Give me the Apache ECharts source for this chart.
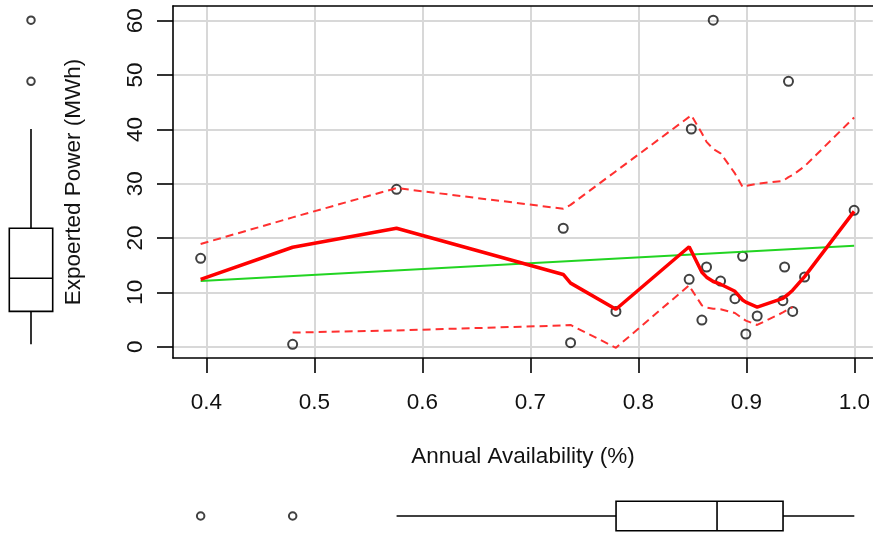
<!DOCTYPE html>
<html><head><meta charset="utf-8">
<script src="https://cdn.jsdelivr.net/npm/echarts@6/dist/echarts.min.js"></script>
<style>html,body{margin:0;padding:0;background:#fff}#c{width:873px;height:536px}</style>
</head><body><div id="c"></div>
<script>
// ---- data ----
const xTicks = [0.4, 0.5, 0.6, 0.7, 0.8, 0.9, 1.0];
const yTicks = [0, 10, 20, 30, 40, 50, 60];
const xTitle = 'Annual Availability (%)';
const yTitle = 'Expoerted Power (MWh)';

const availability = [0.3946, 0.4798, 0.576, 0.7304, 0.7372, 0.7792, 0.847, 0.849, 0.8588, 0.8631, 0.8693,
                      0.8761, 0.8894, 0.8965, 0.8995, 0.91, 0.9338, 0.9354, 0.939, 0.9429, 0.9539, 0.9998];
const power = [16.27, 0.44, 28.97, 21.8, 0.74, 6.5, 12.4, 40.07, 4.91, 14.67, 60.1,
               12.09, 8.84, 16.64, 2.34, 5.65, 8.47, 14.67, 48.85, 6.5, 12.83, 25.1];

// smoother and its spread, at the same x values
const smoothFit = [12.4, 18.3, 21.8, 13.3, 11.7, 6.9, 18.4, 17.6, 13.7, 12.8, 12.0,
                   11.5, 10.2, 8.6, 8.2, 7.3, 8.9, 9.2, 9.7, 10.4, 12.9, 24.9];
const upperSpread = [18.9, 23.8, 29.2, 25.4, 26.1, 32.3, 42.3, 42.6, 39.3, 37.7, 36.4,
                     35.6, 31.9, 29.4, 29.6, 30.0, 30.5, 30.7, 31.2, 31.6, 33.2, 42.2];
const lowerSpread = [null, 2.6, 3.0, 3.9, 4.0, -0.2, 11.3, 10.6, 7.6, 7.2, 7.0,
                     6.9, 6.2, 5.2, 4.8, 4.0, 6.3, 6.5, 6.9, 7.3, null, null];

// least-squares line end points
const regX = [0.3946, 0.9998];
const regY = [12.1, 18.6];

// marginal boxplots: [lower whisker, lower hinge, median, upper hinge, upper whisker]
const xBoxStats = [0.576, 0.7792, 0.8727, 0.9338, 0.9998];
const xBoxOutliers = [0.3946, 0.4798];
const yBoxStats = [0.44, 6.5, 12.6, 21.8, 40.07];
const yBoxOutliers = [48.85, 60.1];

// ---- chart ----
const FONT = 'Liberation Sans, Arial, sans-serif';
const TXT = '#121212';
const X_MIN = 0.369, X_MAX = 1.0171;
const Y_MIN = -2.08, Y_MAX = 62.71;

const zip = (xs, ys) => xs.map((x, i) => [x, ys[i]]);

const boxStyle = {stroke: '#000', lineWidth: 1.6, fill: 'none'};
function renderVBox(params, api) {
  const c = api.value(0);
  const p = [1,2,3,4,5].map(d => api.coord([c, api.value(d)]));
  const hw = 21.7;
  return {type: 'group', children: [
    {type: 'line', shape: {x1: p[0][0], y1: p[0][1], x2: p[1][0], y2: p[1][1]}, style: boxStyle},
    {type: 'line', shape: {x1: p[3][0], y1: p[3][1], x2: p[4][0], y2: p[4][1]}, style: boxStyle},
    {type: 'rect', shape: {x: p[1][0] - hw, y: p[3][1], width: 2 * hw, height: p[1][1] - p[3][1]}, style: boxStyle},
    {type: 'line', shape: {x1: p[2][0] - hw, y1: p[2][1], x2: p[2][0] + hw, y2: p[2][1]}, style: boxStyle}
  ]};
}
function renderHBox(params, api) {
  const c = api.value(0);
  const p = [1,2,3,4,5].map(d => api.coord([api.value(d), c]));
  const hh = 14.7;
  return {type: 'group', children: [
    {type: 'line', shape: {x1: p[0][0], y1: p[0][1], x2: p[1][0], y2: p[1][1]}, style: boxStyle},
    {type: 'line', shape: {x1: p[3][0], y1: p[3][1], x2: p[4][0], y2: p[4][1]}, style: boxStyle},
    {type: 'rect', shape: {x: p[1][0], y: p[1][1] - hh, width: p[3][0] - p[1][0], height: 2 * hh}, style: boxStyle},
    {type: 'line', shape: {x1: p[2][0], y1: p[2][1] - hh, x2: p[2][0], y2: p[2][1] + hh}, style: boxStyle}
  ]};
}

const axisLineStyle = {show: true, onZero: false, lineStyle: {color: '#000', width: 1.6}};
const pointStyle = {color: 'transparent', borderColor: '#111', borderWidth: 2};
const chart = echarts.init(document.getElementById('c'), null, {renderer: 'canvas'});
chart.setOption({
  animation: false,
  backgroundColor: '#fff',
  grid: [
    {left: 173, top: 6, width: 700, height: 352},
    {left: 0, top: 6, width: 62, height: 352},
    {left: 173, top: 496, width: 700, height: 40}
  ],
  xAxis: [
    {type: 'value', gridIndex: 0, min: X_MIN, max: X_MAX,
     axisLine: axisLineStyle,
     axisTick: {show: true, customValues: xTicks, length: 15, lineStyle: {color: '#000', width: 1.6}},
     axisLabel: {customValues: xTicks, formatter: v => v.toFixed(1), fontSize: 22.5, fontFamily: FONT, color: TXT, margin: 33},
     splitLine: {show: true, lineStyle: {color: '#d8d8d8', width: 2}},
     name: xTitle, nameLocation: 'middle', nameGap: 87,
     nameTextStyle: {fontSize: 22.5, fontFamily: FONT, color: TXT}},
    {type: 'category', gridIndex: 1, data: ['y'], show: false},
    {type: 'value', gridIndex: 2, min: X_MIN, max: X_MAX, show: false},
    {type: 'value', gridIndex: 0, position: 'top', min: X_MIN, max: X_MAX,
     axisLine: axisLineStyle, axisTick: {show: false}, axisLabel: {show: false}, splitLine: {show: false}}
  ],
  yAxis: [
    {type: 'value', gridIndex: 0, min: Y_MIN, max: Y_MAX,
     axisLine: axisLineStyle,
     axisTick: {show: true, customValues: yTicks, length: 16, lineStyle: {color: '#000', width: 1.6}},
     axisLabel: {customValues: yTicks, rotate: 90, fontSize: 22.5, fontFamily: FONT, color: TXT, margin: 26},
     splitLine: {show: true, lineStyle: {color: '#d8d8d8', width: 2}},
     name: yTitle, nameLocation: 'middle', nameGap: 88,
     nameTextStyle: {fontSize: 22.5, fontFamily: FONT, color: TXT}},
    {type: 'value', gridIndex: 1, min: Y_MIN, max: Y_MAX, show: false},
    {type: 'category', gridIndex: 2, data: ['x'], show: false}
  ],
  series: [
    {type: 'scatter', xAxisIndex: 0, yAxisIndex: 0, data: zip(availability, power), symbol: 'circle', symbolSize: 9,
     itemStyle: pointStyle, z: 2},
    {type: 'line', xAxisIndex: 0, yAxisIndex: 0, data: zip(regX, regY), showSymbol: false,
     lineStyle: {color: '#22d422', width: 2}, z: 3},
    {type: 'line', xAxisIndex: 0, yAxisIndex: 0, data: zip(availability, upperSpread), showSymbol: false,
     lineStyle: {color: '#ff3030', width: 2, type: [8, 5]}, z: 3},
    {type: 'line', xAxisIndex: 0, yAxisIndex: 0, data: zip(availability, lowerSpread), showSymbol: false, connectNulls: false,
     lineStyle: {color: '#ff3030', width: 2, type: [8, 5]}, z: 3},
    {type: 'line', xAxisIndex: 0, yAxisIndex: 0, data: zip(availability, smoothFit), showSymbol: false,
     lineStyle: {color: '#ff0000', width: 3.5}, z: 4},
    {type: 'custom', xAxisIndex: 1, yAxisIndex: 1, renderItem: renderVBox,
     encode: {x: 0, y: [1, 2, 3, 4, 5]}, data: [[0].concat(yBoxStats)], clip: false},
    {type: 'scatter', xAxisIndex: 1, yAxisIndex: 1, data: yBoxOutliers.map(v => [0, v]), symbol: 'circle', symbolSize: 7.5,
     itemStyle: pointStyle},
    {type: 'custom', xAxisIndex: 2, yAxisIndex: 2, renderItem: renderHBox,
     encode: {x: [1, 2, 3, 4, 5], y: 0}, data: [[0].concat(xBoxStats)], clip: false},
    {type: 'scatter', xAxisIndex: 2, yAxisIndex: 2, data: xBoxOutliers.map(v => [v, 0]), symbol: 'circle', symbolSize: 7.5,
     itemStyle: pointStyle}
  ]
});
</script></body></html>
